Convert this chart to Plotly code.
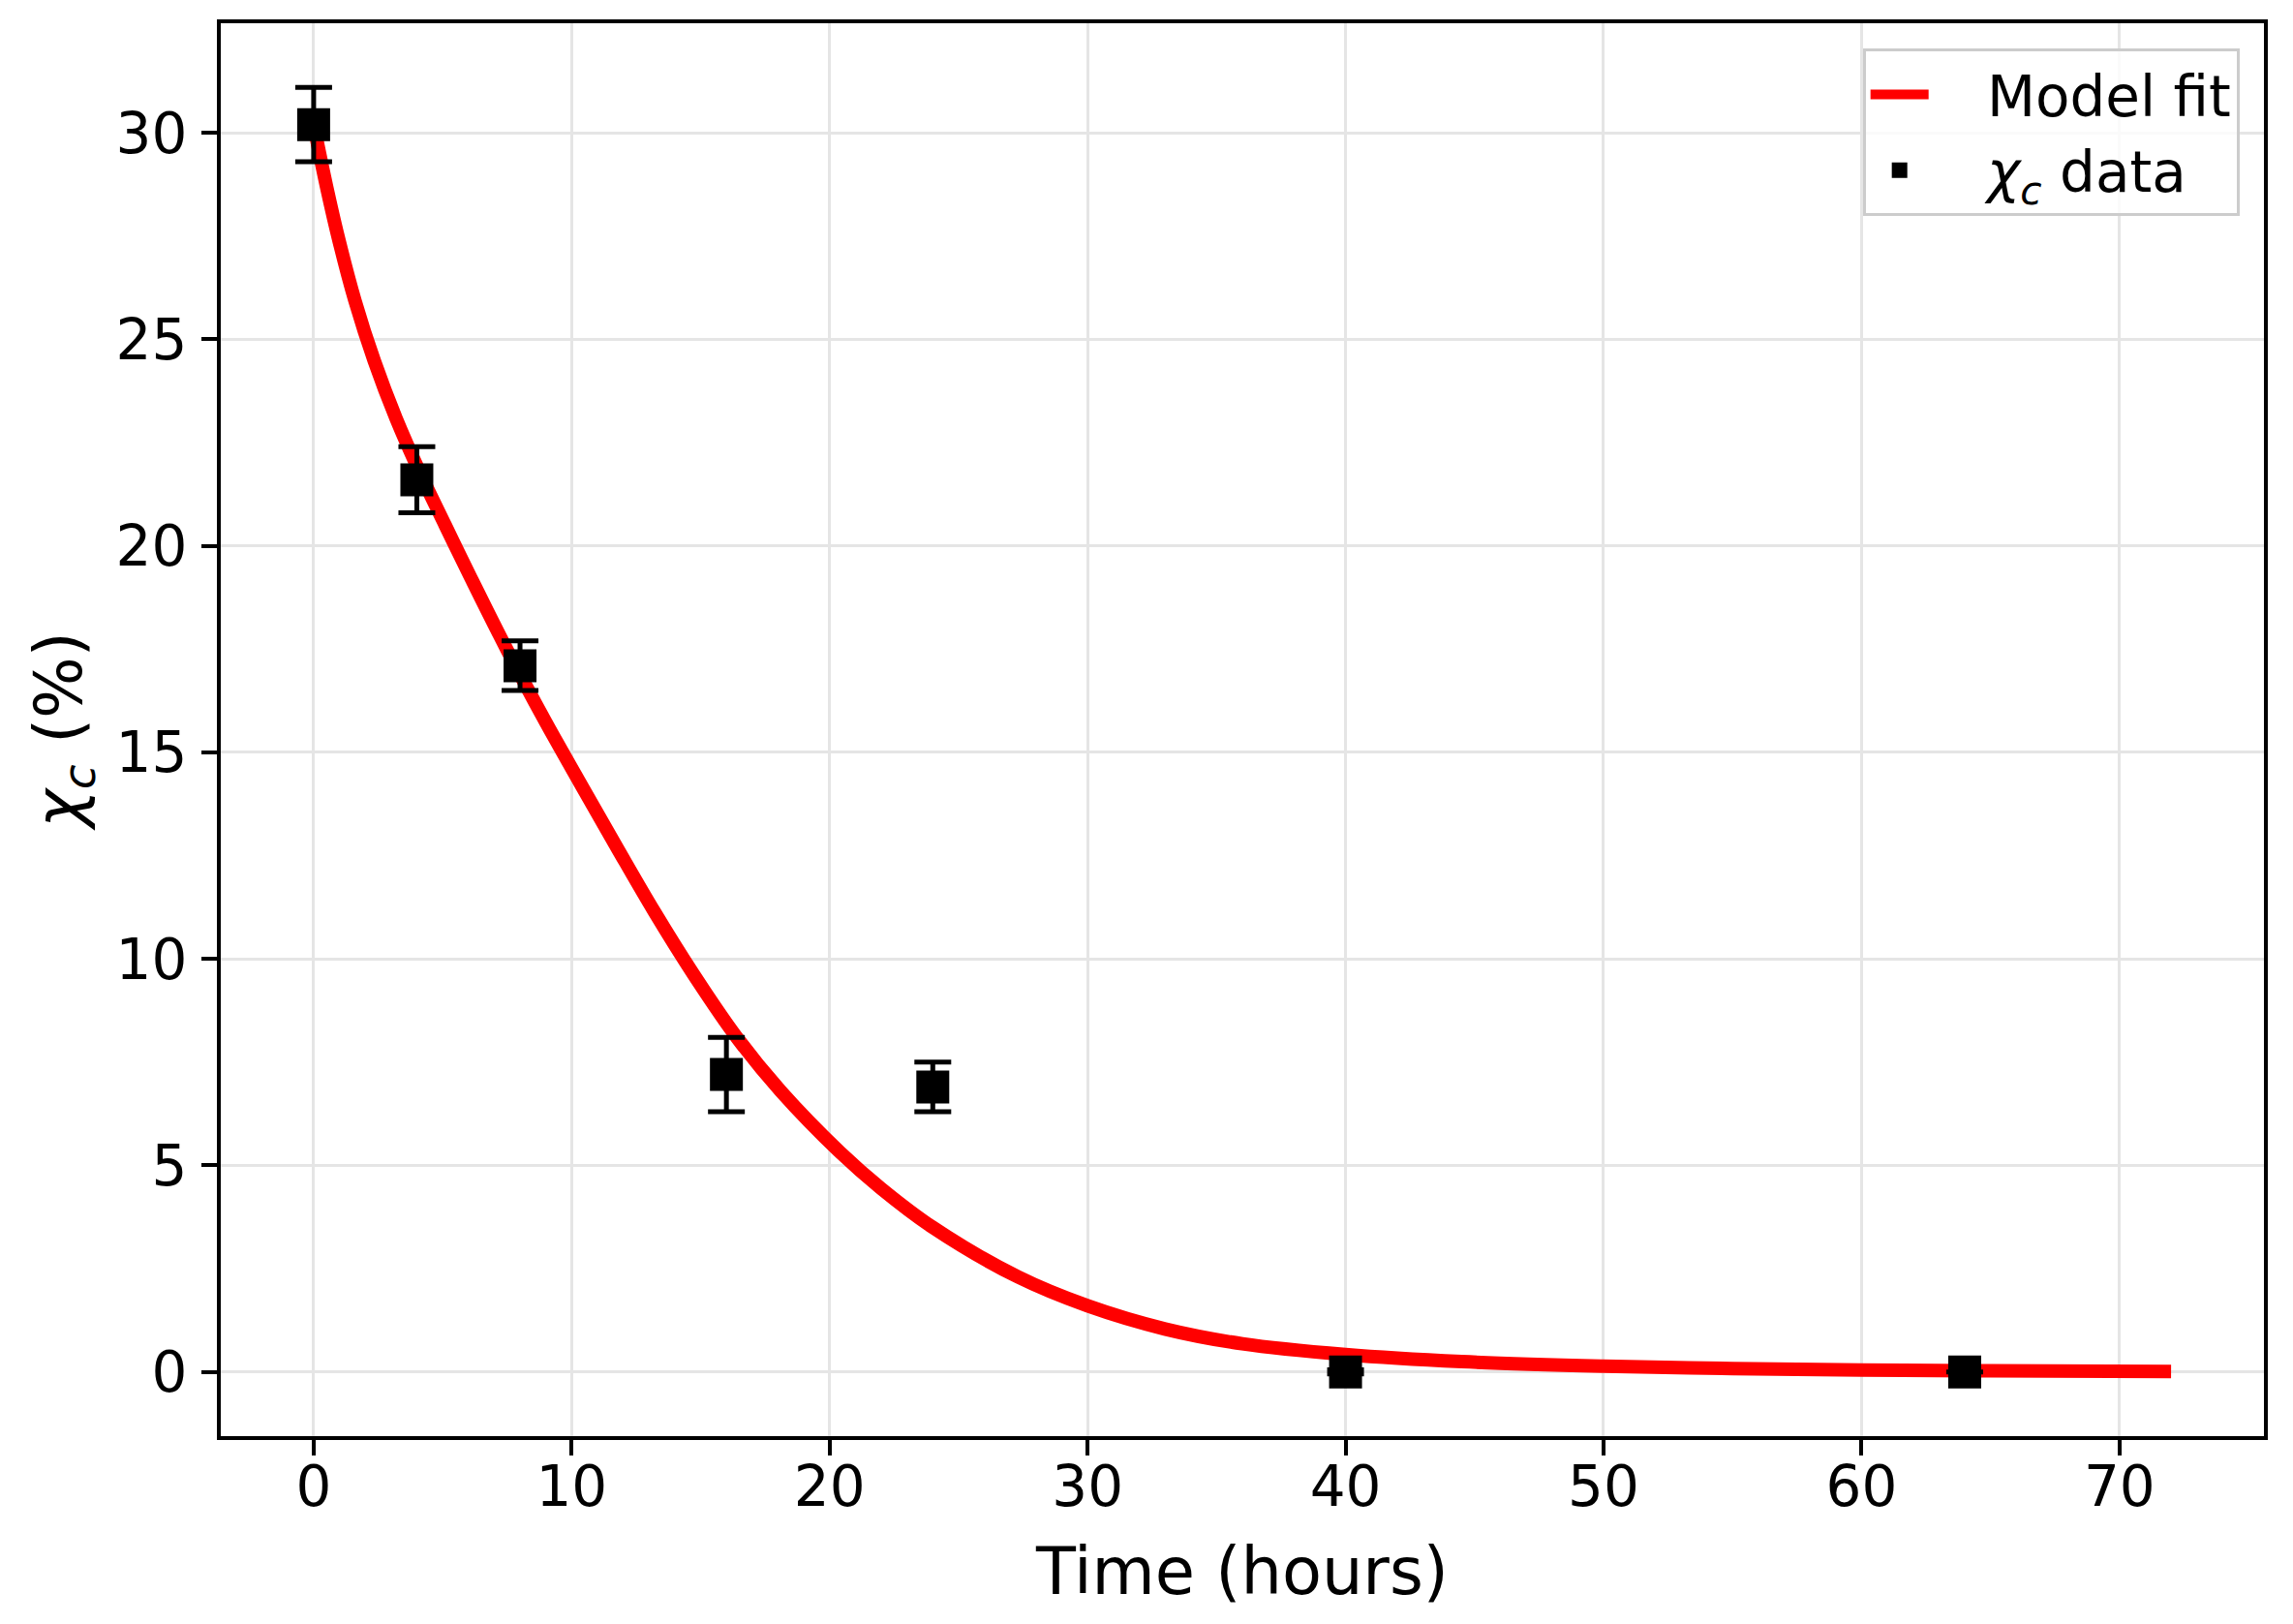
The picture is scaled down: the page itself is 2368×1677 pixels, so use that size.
import plotly.graph_objects as go

# ---- data ----
time_h = [0, 4, 8, 16, 24, 40, 64]
chi_c = [30.2, 21.6, 17.1, 7.2, 6.9, 0.0, 0.0]
chi_err = [0.9, 0.8, 0.6, 0.9, 0.6, 0.05, 0.0]

fit_t = [0, 0.5, 1.0, 1.6, 2.35, 3.2, 4.1, 5.1, 6.1, 7.5, 9.0, 10.4, 11.8, 13.2,
         14.7, 16.4, 18.1, 20.4, 22.0, 24.0, 27.3, 30.0, 33.0, 36.0, 40.0,
         44.5, 50.0, 55.0, 60.0, 65.0, 72.0]
fit_y = [30.2, 28.7, 27.35, 25.94, 24.48, 23.08, 21.8, 20.5, 19.22, 17.48, 15.73,
         14.18, 12.65, 11.15, 9.65, 8.1, 6.8, 5.32, 4.44, 3.5, 2.3, 1.6,
         1.04, 0.68, 0.42, 0.25, 0.14, 0.08, 0.045, 0.025, 0.01]

x_ticks = [0, 10, 20, 30, 40, 50, 60, 70]
y_ticks = [0, 5, 10, 15, 20, 25, 30]

FONT = "DejaVu Sans"
NB = "\u00a0"

fig = go.Figure()
fig.add_trace(go.Scatter(
    x=fit_t, y=fit_y, mode="lines", name=NB * 3 + "Model fit",
    line=dict(color="#ff0000", width=14, shape="spline", smoothing=1.0),
))
fig.add_trace(go.Scatter(
    x=time_h, y=chi_c, mode="markers",
    name=NB * 3 + "<i>χ</i><sub><i>c</i></sub> data",
    marker=dict(symbol="square", size=34, color="black", line=dict(width=0)),
    error_y=dict(type="data", array=chi_err, visible=True, color="black",
                 thickness=5, width=19),
))

axis_common = dict(
    showline=True, linecolor="black", linewidth=4, mirror=True,
    ticks="outside", ticklen=16, tickwidth=4, tickcolor="black",
    showgrid=True, gridcolor="rgb(229,229,229)", gridwidth=3,
    zeroline=False, tickfont=dict(family=FONT, size=58, color="black"),
)

fig.update_layout(
    width=2368, height=1677,
    margin=dict(l=228, r=30, t=24, b=194),
    paper_bgcolor="white", plot_bgcolor="white",
    font=dict(family=FONT, color="black"),
    showlegend=True,
    legend=dict(
        x=0.988, y=0.982, xanchor="right", yanchor="top",
        bgcolor="rgba(255,255,255,0.8)", bordercolor="rgb(204,204,204)", borderwidth=3,
        font=dict(family=FONT, size=58, color="black"),
        itemwidth=60, tracegroupgap=10,
    ),
)
fig.update_xaxes(
    **axis_common, range=[-3.6, 75.6], tickvals=x_ticks,
    title=dict(text="Time (hours)", font=dict(family=FONT, size=67, color="black"), standoff=33),
    ticklabelstandoff=-18,
)
fig.update_yaxes(
    **axis_common, range=[-1.555, 32.655], tickvals=y_ticks,
    title=dict(text="<i>χ</i><sub><i>c</i></sub> (%)", font=dict(family=FONT, size=67, color="black"), standoff=14),
    ticklabelstandoff=3,
)

fig.write_html("out.html")
